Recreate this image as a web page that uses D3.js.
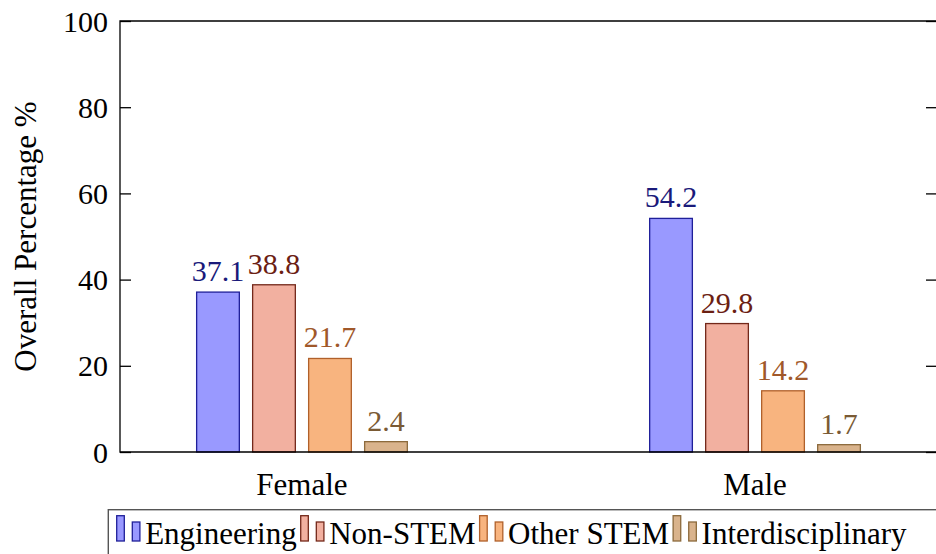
<!DOCTYPE html>
<html>
<head>
<meta charset="utf-8">
<script src="https://cdn.jsdelivr.net/npm/d3@7/dist/d3.min.js"></script>
</head>
<body style="margin:0">
<svg id="chart" width="936" height="554"></svg>
<script>
const categories = ["Female", "Male"];
const seriesNames = ["Engineering", "Non-STEM", "Other STEM", "Interdisciplinary"];
const engineering = [37.1, 54.2];
const nonStem = [38.8, 29.8];
const otherStem = [21.7, 14.2];
const interdisciplinary = [2.4, 1.7];
const yTicks = [0, 20, 40, 60, 80, 100];

const seriesValues = [engineering, nonStem, otherStem, interdisciplinary];
const fills = ["#9999ff", "#f2b0a0", "#f8b47f", "#d9b38c"];
const strokes = ["#1f1f99", "#73281a", "#b0602a", "#8c6a3c"];
const labelColors = ["#1a1a7a", "#6b2012", "#a0582a", "#7a5a34"];

const svg = d3.select("#chart");
const plotLeft = 120, plotRight = 937, plotTop = 21, plotBottom = 452;

function label(sel, size) {
  return sel.style("font-family", '"Liberation Serif"')
    .attr("font-family", "Liberation Serif")
    .attr("font-size", size);
}

const y = d3.scaleLinear().domain([0, 100]).range([plotBottom, plotTop]);
const x = d3.scalePoint().domain(categories).range([plotLeft, plotRight]).padding(0.4017);
const inner = d3.scaleBand().domain(seriesNames).range([-112, 112])
  .paddingInner(0.2375).paddingOuter(0.11875);

// bars
seriesNames.forEach((s, si) => {
  svg.append("g").selectAll("rect").data(categories).enter().append("rect")
    .attr("x", c => x(c) + inner(s))
    .attr("y", (c, i) => y(seriesValues[si][i]))
    .attr("width", inner.bandwidth())
    .attr("height", (c, i) => y(0) - y(seriesValues[si][i]))
    .attr("fill", fills[si])
    .attr("stroke", strokes[si])
    .attr("stroke-width", 1.3);
});
seriesNames.forEach((s, si) => {
  categories.forEach((c, i) => {
    label(svg.append("text"), 30)
      .attr("x", x(c) + inner(s) + inner.bandwidth() / 2)
      .attr("y", y(seriesValues[si][i]) - 11)
      .attr("text-anchor", "middle")
      .attr("fill", labelColors[si])
      .text(seriesValues[si][i].toFixed(1));
  });
});

// frame
svg.append("path")
  .attr("d", `M${plotLeft},${plotBottom}V${plotTop}H${plotRight}V${plotBottom}Z`)
  .attr("fill", "none").attr("stroke", "#000").attr("stroke-width", 1.3);

// y axis ticks (inward) left and right
const yAxisL = d3.axisRight(y).tickValues(yTicks).tickSize(11).tickFormat("");
svg.append("g").attr("transform", `translate(${plotLeft},0)`).call(yAxisL)
  .call(g => g.select(".domain").remove())
  .call(g => g.selectAll("text").remove())
  .call(g => g.selectAll("line").attr("stroke", "#000").attr("stroke-width", 1.3));
const yAxisR = d3.axisLeft(y).tickValues(yTicks).tickSize(11).tickFormat("");
svg.append("g").attr("transform", `translate(${plotRight},0)`).call(yAxisR)
  .call(g => g.select(".domain").remove())
  .call(g => g.selectAll("text").remove())
  .call(g => g.selectAll("line").attr("stroke", "#000").attr("stroke-width", 1.3));

// y tick labels
yTicks.forEach(d => {
  label(svg.append("text"), 30)
    .attr("x", plotLeft - 12)
    .attr("y", y(d) + 10.5)
    .attr("text-anchor", "end")
    .text(d);
});

// x labels
categories.forEach(c => {
  label(svg.append("text"), 31)
    .attr("x", x(c))
    .attr("y", 495)
    .attr("text-anchor", "middle")
    .text(c);
});

// y label
label(svg.append("text"), 31)
  .attr("transform", `translate(36,${(plotTop + plotBottom) / 2}) rotate(-90)`)
  .attr("text-anchor", "middle")
  .text("Overall Percentage %");

// legend
svg.append("rect")
  .attr("x", 108.3).attr("y", 509.7)
  .attr("width", 900).attr("height", 100)
  .attr("fill", "#fff").attr("stroke", "#555").attr("stroke-width", 1.4);

let cursor = 116.7;
seriesNames.forEach((s, si) => {
  svg.append("rect").attr("x", cursor).attr("y", 515.7).attr("width", 7.6).attr("height", 25.3)
    .attr("fill", fills[si]).attr("stroke", strokes[si]).attr("stroke-width", 1.3);
  svg.append("rect").attr("x", cursor + 15.6).attr("y", 522).attr("width", 7.6).attr("height", 19)
    .attr("fill", fills[si]).attr("stroke", strokes[si]).attr("stroke-width", 1.3);
  const t = label(svg.append("text"), 31).attr("x", cursor + 28.5).attr("y", 544).text(s);
  cursor = cursor + 28.5 + t.node().getComputedTextLength() + 4;
});
</script>
</body>
</html>
